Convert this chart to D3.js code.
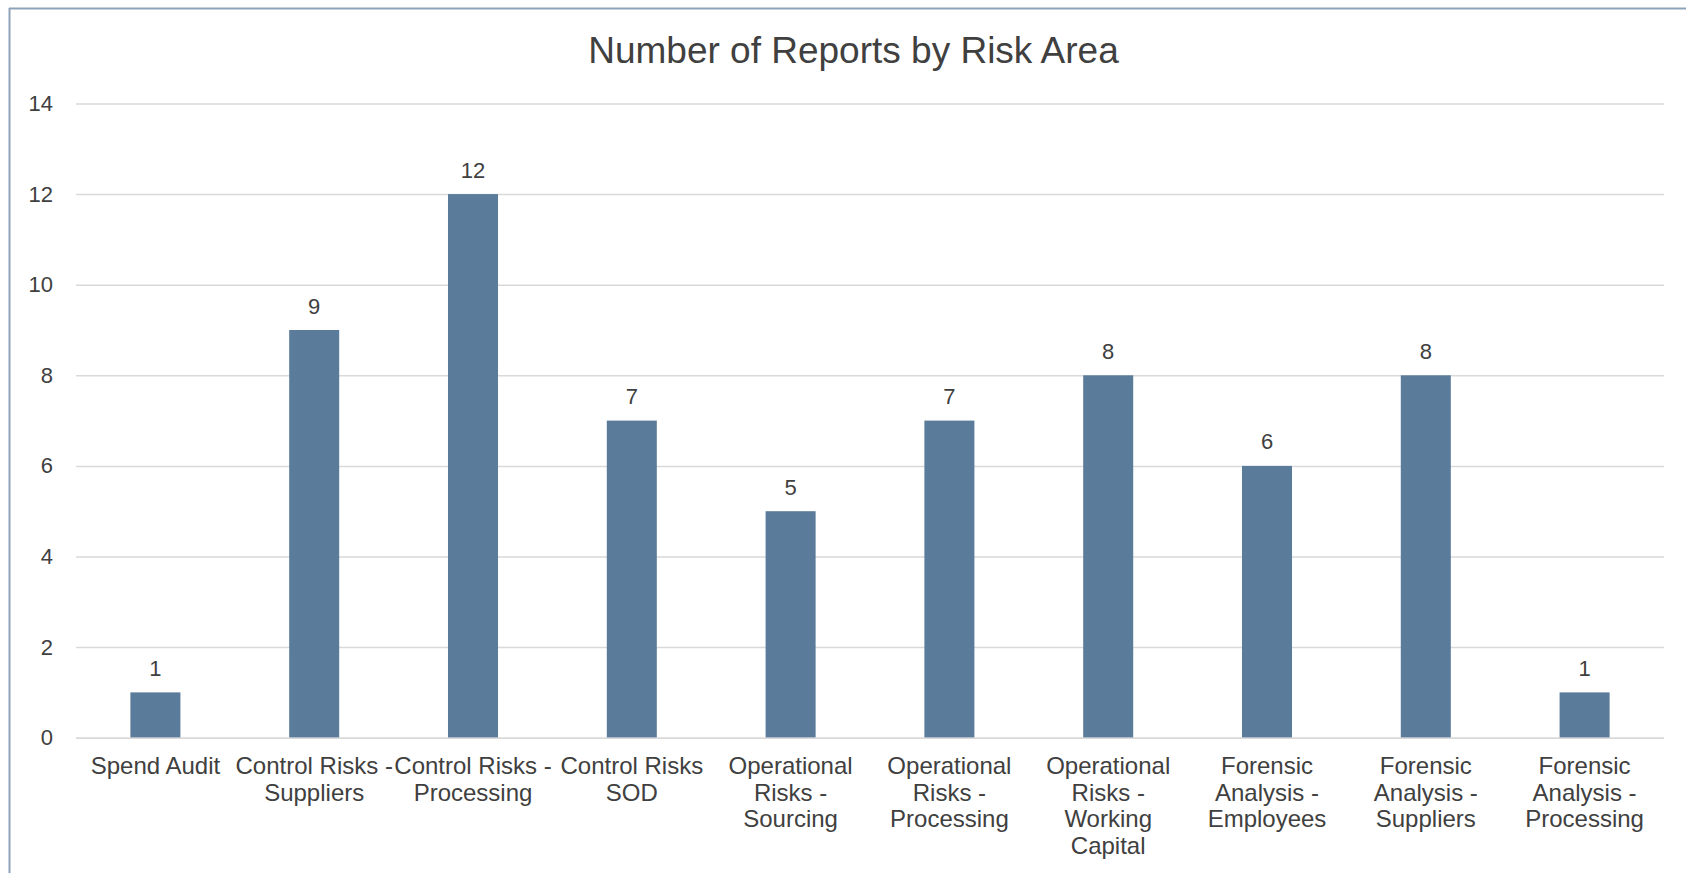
<!DOCTYPE html>
<html>
<head>
<meta charset="utf-8">
<script src="https://cdn.jsdelivr.net/npm/d3@7"></script>
<style>
  html, body { margin: 0; padding: 0; background: #ffffff; }
  svg { display: block; }
  text { font-family: "Liberation Sans", Arial, sans-serif; fill: #404040; }
</style>
</head>
<body>
<svg id="chart" width="1686" height="873"></svg>
<script>
const title = "Number of Reports by Risk Area";
const categories = [
  "Spend Audit",
  "Control Risks - Suppliers",
  "Control Risks - Processing",
  "Control Risks SOD",
  "Operational Risks - Sourcing",
  "Operational Risks - Processing",
  "Operational Risks - Working Capital",
  "Forensic Analysis - Employees",
  "Forensic Analysis - Suppliers",
  "Forensic Analysis - Processing"
];
const categoryLines = [
  ["Spend Audit"],
  ["Control Risks -", "Suppliers"],
  ["Control Risks -", "Processing"],
  ["Control Risks", "SOD"],
  ["Operational", "Risks -", "Sourcing"],
  ["Operational", "Risks -", "Processing"],
  ["Operational", "Risks -", "Working", "Capital"],
  ["Forensic", "Analysis -", "Employees"],
  ["Forensic", "Analysis -", "Suppliers"],
  ["Forensic", "Analysis -", "Processing"]
];
const reports = [1, 9, 12, 7, 5, 7, 8, 6, 8, 1];
const yTicks = [0, 2, 4, 6, 8, 10, 12, 14];

const svg = d3.select("#chart");
const W = 1686, H = 873;
const mLeft = 76, mRight = 1664, mTop = 103.5, mBottom = 737.7;

// frame (top and left edges visible)
svg.append("line").attr("x1", 9).attr("x2", W).attr("y1", 8.5).attr("y2", 8.5)
  .attr("stroke", "#8DA3BA").attr("stroke-width", 2);
svg.append("line").attr("x1", 9.5).attr("x2", 9.5).attr("y1", 8).attr("y2", H)
  .attr("stroke", "#8DA3BA").attr("stroke-width", 2);

const x = d3.scaleBand().domain(categories).range([mLeft, mRight])
  .paddingInner(0.685).paddingOuter(0.3425);
const y = d3.scaleLinear().domain([0, 14]).range([mBottom, mTop]);

// gridlines + y tick labels via axis
const yAxis = d3.axisLeft(y).tickValues(yTicks).tickSize(-(mRight - mLeft)).tickPadding(23);
const gy = svg.append("g").attr("transform", `translate(${mLeft},0)`).call(yAxis);
gy.select(".domain").remove();
gy.selectAll(".tick line").attr("stroke", "#D9D9D9").attr("stroke-width", 1.5);
gy.selectAll(".tick text").attr("font-size", 22).attr("fill", "#404040")
  .style("font-family", '"Liberation Sans", Arial, sans-serif');

// bars
svg.append("g").selectAll("rect").data(reports).join("rect")
  .attr("x", (d, i) => x(categories[i]))
  .attr("width", x.bandwidth())
  .attr("y", d => y(d))
  .attr("height", d => y(0) - y(d))
  .attr("fill", "#5B7B9A");

// zero axis line on top
svg.append("line").attr("x1", mLeft).attr("x2", mRight)
  .attr("y1", y(0) + 0.5).attr("y2", y(0) + 0.5)
  .attr("stroke", "#D9D9D9").attr("stroke-width", 1.5);

// data labels
svg.append("g").selectAll("text").data(reports).join("text")
  .attr("x", (d, i) => x(categories[i]) + x.bandwidth() / 2)
  .attr("y", d => y(d) - 16.5)
  .attr("text-anchor", "middle")
  .attr("font-size", 22)
  .text(d => d);

// category labels
const xAxis = d3.axisBottom(x).tickSize(0).tickFormat("");
const gx = svg.append("g").attr("transform", `translate(0,${mBottom})`).call(xAxis);
gx.select(".domain").remove();
gx.selectAll(".tick").each(function(d, i) {
  const t = d3.select(this).append("text")
    .attr("text-anchor", "middle")
    .attr("font-size", 24)
    .style("font-family", '"Liberation Sans", Arial, sans-serif')
    .attr("fill", "#404040");
  categoryLines[i].forEach((ln, j) => {
    t.append("tspan").attr("x", 0).attr("y", 36.3 + j * 26.7).text(ln);
  });
});

// title
svg.append("text").attr("x", 853.5).attr("y", 63.3)
  .attr("text-anchor", "middle").attr("font-size", 37).attr("fill", "#404040")
  .text(title);
</script>
</body>
</html>
